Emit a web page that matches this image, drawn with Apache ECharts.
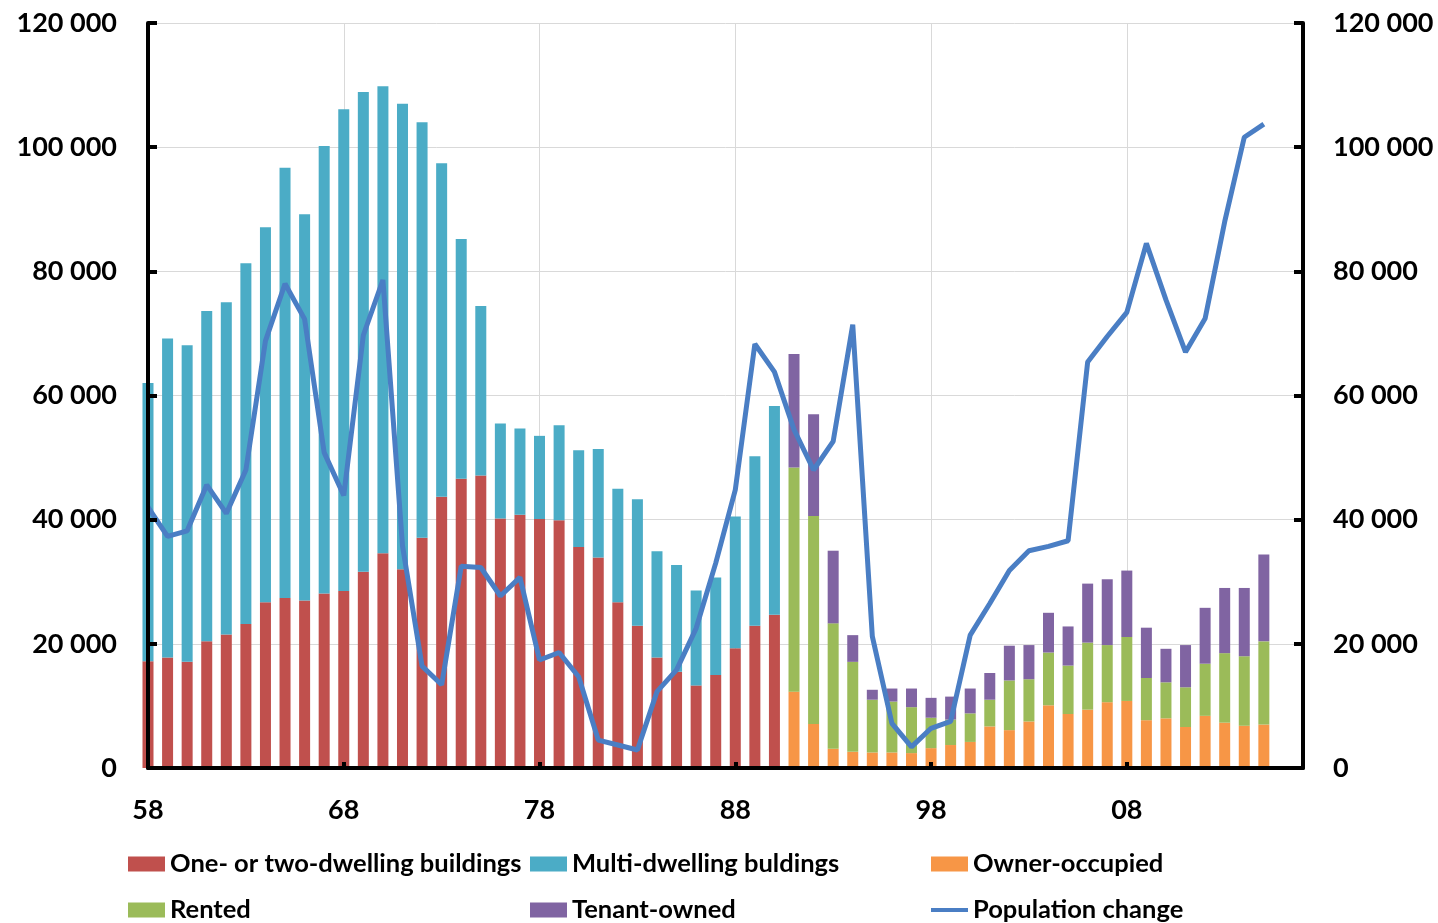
<!DOCTYPE html>
<html><head><meta charset="utf-8">
<script src="https://cdn.jsdelivr.net/npm/echarts@6/dist/echarts.min.js"></script>
<style>html,body{margin:0;padding:0;background:#fff}#c{width:1438px;height:923px}</style>
</head><body><div id="c"></div>
<script>
// Category labels (two-digit years)
const yearsA = ['58','59','60','61','62','63','64','65','66','67','68','69','70','71','72','73','74','75','76','77','78','79','80','81','82','83','84','85','86','87','88','89','90'];
const yearsB = ['91','92','93','94','95','96','97','98','99','00','01','02','03','04','05','06','07','08','09','10','11','12','13','14','15'];
const yearsExtra = ['16','17'];
const tickLabels = ['58','68','78','88','98','08'];

// 1958-1990: completed dwellings by building type
const oneTwoDwelling = [17200,17800,17100,20400,21500,23200,26700,27400,27000,28100,28500,31600,34600,32000,37100,43700,46600,47100,40200,40800,40100,39900,35600,33900,26700,22900,17800,15500,13300,15000,19300,22900,24700];
const multiDwelling = [44800,51400,51000,53200,53500,58100,60400,69300,62200,72100,77600,77300,75200,75000,66900,53700,38600,27300,15300,13900,13400,15300,15600,17500,18300,20400,17100,17200,15300,15700,21200,27300,33600];

// 1991-2015: completed dwellings by tenure
const ownerOccupied = [12300,7100,3100,2600,2500,2500,2400,3200,3700,4200,6700,6100,7500,10100,8700,9400,10600,10800,7700,8000,6600,8400,7300,6800,7000];
const rented = [36100,33500,20200,14500,8500,8200,7400,4900,4100,4600,4300,8000,6800,8500,7800,10800,9200,10300,6800,5800,6400,8400,11200,11200,13400];
const tenantOwned = [18300,16400,11700,4300,1600,2100,3000,3200,3700,4000,4300,5600,5500,6400,6300,9500,10600,10700,8100,5400,6800,9000,10500,11000,14000];

// 1958-2015: population change
const populationChange = [42000,37300,38200,45600,41000,48000,68800,78000,72300,50800,43900,69700,78600,35800,16400,13400,32500,32300,27700,30700,17400,18600,14700,4500,3700,2900,12300,15800,22500,33000,44800,68300,63800,54500,48000,52600,71400,21200,7200,3400,6400,7500,21400,26500,31800,35000,35700,36600,65400,69500,73400,84500,75400,67000,72400,88000,101600,103700];

const categories = yearsA.concat(yearsB, yearsExtra);
const yearsAll = yearsA.concat(yearsB);
const pairs = (ys, vs) => vs.map((v, i) => [ys[i], v]);

const FONT = 'Lato';
const fmt = v => String(v).replace(/\B(?=(\d{3})+(?!\d))/g, ' ');
const showTick = (idx, val) => tickLabels.indexOf(val) >= 0;
const labelStyle = {fontFamily: FONT, fontWeight: 'bold', fontSize: 27, color: '#000'};
const grid = {left: 148, right: 135, top: 23, bottom: 155, outerBoundsMode: 'none', containLabel: false};

function legendAt(name, left, top, extra) {
  return Object.assign({
    data: [name], left: left, top: top, padding: 0, itemWidth: 37, itemHeight: 15,
    icon: 'rect', selectedMode: false,
    textStyle: {fontFamily: FONT, fontWeight: 'bold', fontSize: 25.5, color: '#000'}
  }, extra || {});
}

const chart = echarts.init(document.getElementById('c'), null, {renderer: 'canvas'});
chart.setOption({
  animation: false,
  backgroundColor: '#fff',
  grid: grid,
  legend: [
    legendAt('One- or two-dwelling buildings', 128, 851),
    legendAt('Multi-dwelling buldings', 530, 851),
    legendAt('Owner-occupied', 931, 851),
    legendAt('Rented', 128, 897),
    legendAt('Tenant-owned', 530, 897),
    legendAt('Population change', 931, 897, {itemHeight: 4})
  ],
  xAxis: [
    {type: 'category', data: categories, boundaryGap: false, position: 'bottom', z: 0,
     axisLine: {show: false}, axisTick: {show: false},
     axisLabel: Object.assign({interval: showTick, margin: 29}, labelStyle),
     splitLine: {show: true, interval: showTick, lineStyle: {color: '#d9d9d9', width: 1}}},
    {type: 'category', data: categories, boundaryGap: false, position: 'bottom', z: 10,
     axisLine: {show: true, onZero: false, lineStyle: {color: '#000', width: 4}},
     axisTick: {show: true, inside: true, length: 6, interval: showTick, lineStyle: {color: '#000', width: 4}},
     axisLabel: {show: false}, splitLine: {show: false}}
  ],
  yAxis: [
    {type: 'value', min: 0, max: 120000, interval: 20000, position: 'left', z: 0,
     axisLine: {show: false}, axisTick: {show: false},
     axisLabel: Object.assign({formatter: fmt, margin: 31}, labelStyle),
     splitLine: {show: true, lineStyle: {color: '#d9d9d9', width: 1}}},
    {type: 'value', min: 0, max: 120000, interval: 20000, position: 'right', z: 10,
     axisLine: {show: true, onZero: false, lineStyle: {color: '#000', width: 4}},
     axisTick: {show: true, inside: true, length: 9, lineStyle: {color: '#000', width: 4}},
     axisLabel: Object.assign({formatter: fmt, margin: 30}, labelStyle),
     splitLine: {show: false}},
    {type: 'value', min: 0, max: 120000, interval: 20000, position: 'left', z: 10,
     axisLine: {show: true, onZero: false, lineStyle: {color: '#000', width: 4}},
     axisTick: {show: true, inside: true, length: 9, lineStyle: {color: '#000', width: 4}},
     axisLabel: {show: false}, splitLine: {show: false}}
  ],
  series: [
    {name: 'One- or two-dwelling buildings', type: 'bar', stack: 's', barWidth: 11, clip: true,
     itemStyle: {color: '#C0504D'}, data: pairs(yearsA, oneTwoDwelling)},
    {name: 'Multi-dwelling buldings', type: 'bar', stack: 's', barWidth: 11, clip: true,
     itemStyle: {color: '#4BACC6'}, data: pairs(yearsA, multiDwelling)},
    {name: 'Owner-occupied', type: 'bar', stack: 's', barWidth: 11, clip: true,
     itemStyle: {color: '#F79646'}, data: pairs(yearsB, ownerOccupied)},
    {name: 'Rented', type: 'bar', stack: 's', barWidth: 11, clip: true,
     itemStyle: {color: '#9BBB59'}, data: pairs(yearsB, rented)},
    {name: 'Tenant-owned', type: 'bar', stack: 's', barWidth: 11, clip: true,
     itemStyle: {color: '#8064A2'}, data: pairs(yearsB, tenantOwned)},
    {name: 'Population change', type: 'line', showSymbol: false, symbol: 'none', z: 5,
     lineStyle: {color: '#4A7EC4', width: 5}, itemStyle: {color: '#4A7EC4'},
     data: pairs(yearsAll, populationChange)}
  ]
});
</script></body></html>
